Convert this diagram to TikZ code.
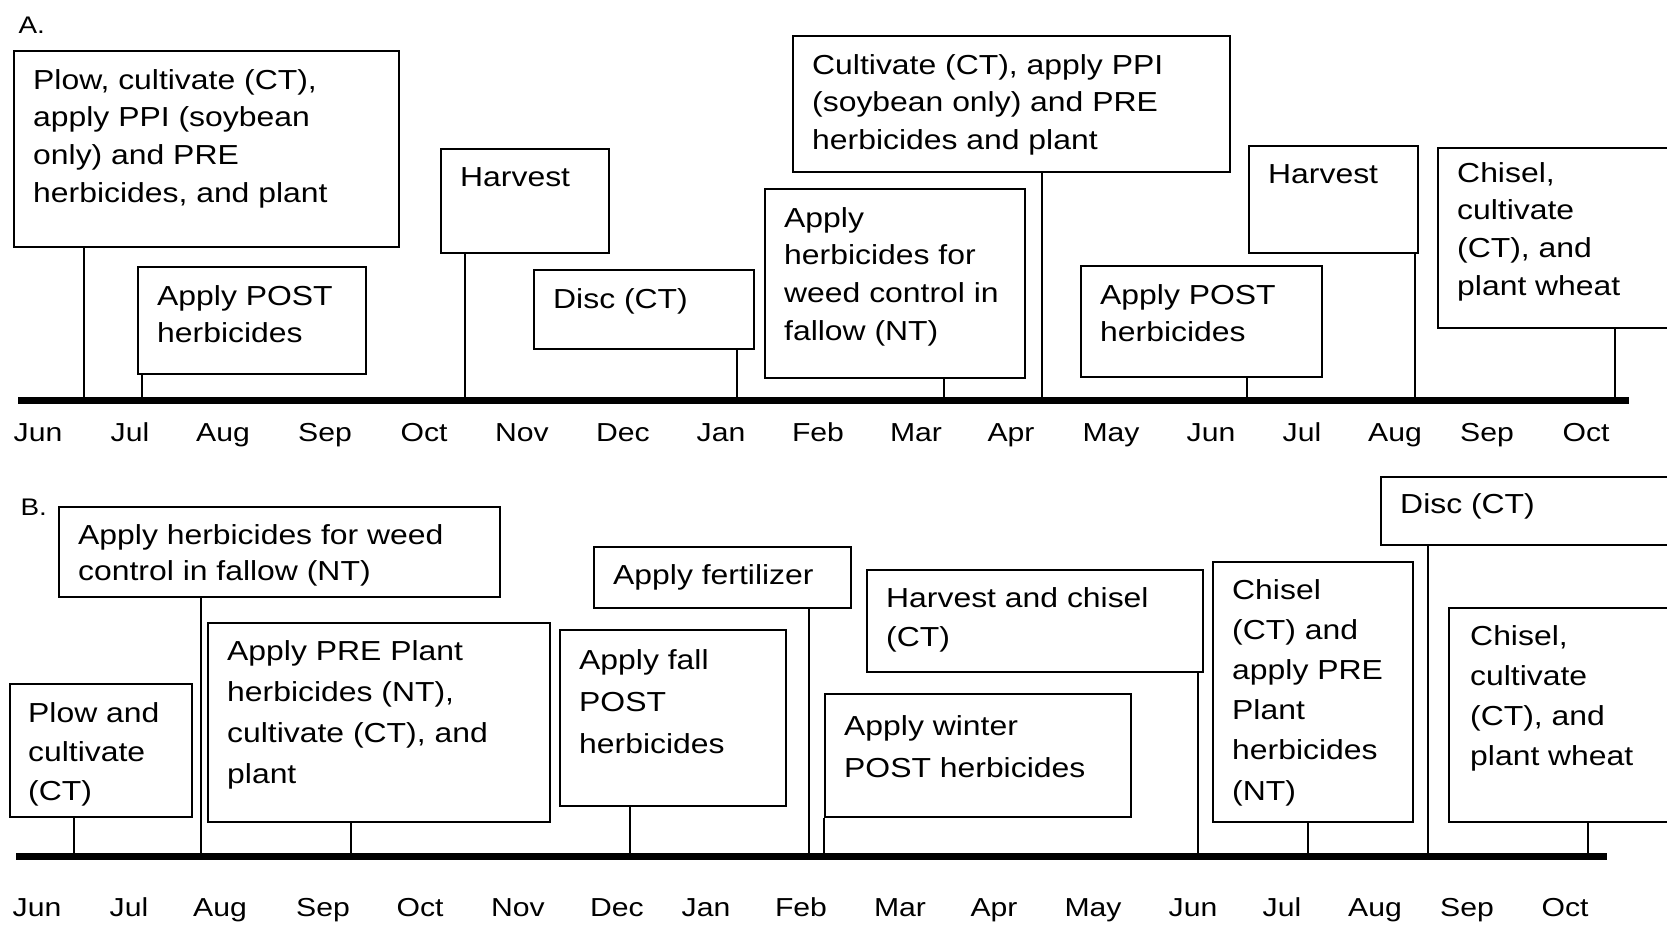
\documentclass[tikz,border=0pt]{standalone}
\usepackage{fontspec}
\setmainfont[FakeStretch=1.16]{Liberation Sans}
\usetikzlibrary{calc}

\begin{document}
\begin{tikzpicture}[x=1pt, y=-1pt,
	box/.style={draw, line width=2.2pt, anchor=north west, inner sep=0pt},
	txt/.style={anchor=north west, inner sep=0pt, align=left, font=\fontsize{27.5}{#1}\selectfont},
	txt/.default=37.7,
	leg/.style={line width=2pt},
	tline/.style={line width=7pt},
	mon/.style={anchor=base, font=\fontsize{26}{30}\selectfont},
	panel/.style={anchor=base west, font=\fontsize{24}{28}\selectfont}]

	\clip (0,0) rectangle (1667,926);
	\fill[white] (0,0) rectangle (1667,926);

	% Panel A
	\node[panel] (pA) at (15,33) {A.};
	\coordinate (axAl) at (18,400);
	\coordinate (axAr) at (1629,400);
	\draw[tline] (axAl) -- (axAr);

	\node[box, minimum width=385, minimum height=196] (a1) at (13,50) {};
	\node[txt] (a1t) at ([shift={(20,19)}]a1.north west) {Plow, cultivate (CT),\\apply PPI (soybean\\only) and PRE\\herbicides, and plant};
	\node[box, minimum width=228, minimum height=107] (a2) at (137,266) {};
	\node[txt] (a2t) at ([shift={(20,19)}]a2.north west) {Apply POST\\herbicides};
	\node[box, minimum width=168, minimum height=104] (a3) at (440,148) {};
	\node[txt] (a3t) at ([shift={(20,19)}]a3.north west) {Harvest};
	\node[box, minimum width=220, minimum height=79] (a4) at (533,269) {};
	\node[txt] (a4t) at ([shift={(20,19)}]a4.north west) {Disc (CT)};
	\node[box, minimum width=260, minimum height=189] (a5) at (764,188) {};
	\node[txt] (a5t) at ([shift={(20,19)}]a5.north west) {Apply\\herbicides for\\weed control in\\fallow (NT)};
	\node[box, minimum width=437, minimum height=136] (a6) at (792,35) {};
	\node[txt] (a6t) at ([shift={(20,19)}]a6.north west) {Cultivate (CT), apply PPI\\(soybean only) and PRE\\herbicides and plant};
	\node[box, minimum width=241, minimum height=111] (a7) at (1080,265) {};
	\node[txt] (a7t) at ([shift={(20,19)}]a7.north west) {Apply POST\\herbicides};
	\node[box, minimum width=169, minimum height=107] (a8) at (1248,145) {};
	\node[txt] (a8t) at ([shift={(20,19)}]a8.north west) {Harvest};
	\node[box, minimum width=283, minimum height=180] (a9) at (1437,147) {};
	\node[txt] (a9t) at ([shift={(20,15)}]a9.north west) {Chisel,\\cultivate\\(CT), and\\plant wheat};

	\foreach \b/\x in {a1/84, a2/142, a3/465, a4/737, a5/944, a6/1042, a7/1247, a8/1415, a9/1615} {
			\draw[leg] (\x,0 |- \b.south) -- (\x,0 |- axAl);
		}
	\foreach \m/\x in {Jun/38, Jul/130, Aug/223, Sep/325, Oct/424, Nov/522, Dec/623, Jan/721, Feb/818,
			Mar/916, Apr/1011, May/1111, Jun/1211, Jul/1302, Aug/1395, Sep/1487, Oct/1586} {
			\node[mon] (mA\x) at (\x,441) {\m};
		}

	% Panel B
	\node[panel] (pB) at (17,515) {B.};
	\coordinate (axBl) at (16,856);
	\coordinate (axBr) at (1607,856);
	\draw[tline] (axBl) -- (axBr);

	\node[box, minimum width=441, minimum height=90] (b1) at (58,506) {};
	\node[txt=36] (b1t) at ([shift={(20,18)}]b1.north west) {Apply herbicides for weed\\control in fallow (NT)};
	\node[box, minimum width=182, minimum height=133] (b2) at (9,683) {};
	\node[txt=39] (b2t) at ([shift={(19,19)}]b2.north west) {Plow and\\cultivate\\(CT)};
	\node[box, minimum width=342, minimum height=199] (b3) at (207,622) {};
	\node[txt=41] (b3t) at ([shift={(20,18)}]b3.north west) {Apply PRE Plant\\herbicides (NT),\\cultivate (CT), and\\plant};
	\node[box, minimum width=257, minimum height=61] (b4) at (593,546) {};
	\node[txt] (b4t) at ([shift={(20,18)}]b4.north west) {Apply fertilizer};
	\node[box, minimum width=226, minimum height=176] (b5) at (559,629) {};
	\node[txt=42] (b5t) at ([shift={(20,20)}]b5.north west) {Apply fall\\POST\\herbicides};
	\node[box, minimum width=336, minimum height=102] (b6) at (866,569) {};
	\node[txt=39] (b6t) at ([shift={(20,18)}]b6.north west) {Harvest and chisel\\(CT)};
	\node[box, minimum width=306, minimum height=123] (b7) at (824,693) {};
	\node[txt=42] (b7t) at ([shift={(20,22)}]b7.north west) {Apply winter\\POST herbicides};
	\node[box, minimum width=200, minimum height=260] (b8) at (1212,561) {};
	\node[txt=40.2] (b8t) at ([shift={(20,18)}]b8.north west) {Chisel\\(CT) and\\apply PRE\\Plant\\herbicides\\(NT)};
	\node[box, minimum width=340, minimum height=68] (b9) at (1380,476) {};
	\node[txt] (b9t) at ([shift={(20,17)}]b9.north west) {Disc (CT)};
	\node[box, minimum width=272, minimum height=214] (b10) at (1448,607) {};
	\node[txt=40] (b10t) at ([shift={(22,18)}]b10.north west) {Chisel,\\cultivate\\(CT), and\\plant wheat};

	\foreach \b/\x in {b1/201, b2/74, b3/351, b4/809, b5/630, b6/1198, b7/824, b8/1308, b9/1428, b10/1588} {
			\draw[leg] (\x,0 |- \b.south) -- (\x,0 |- axBl);
		}
	\foreach \m/\x in {Jun/37, Jul/129, Aug/220, Sep/323, Oct/420, Nov/518, Dec/617, Jan/706, Feb/801,
			Mar/900, Apr/994, May/1093, Jun/1193, Jul/1282, Aug/1375, Sep/1467, Oct/1565} {
			\node[mon] (mB\x) at (\x,916) {\m};
		}

\end{tikzpicture}
\end{document}
